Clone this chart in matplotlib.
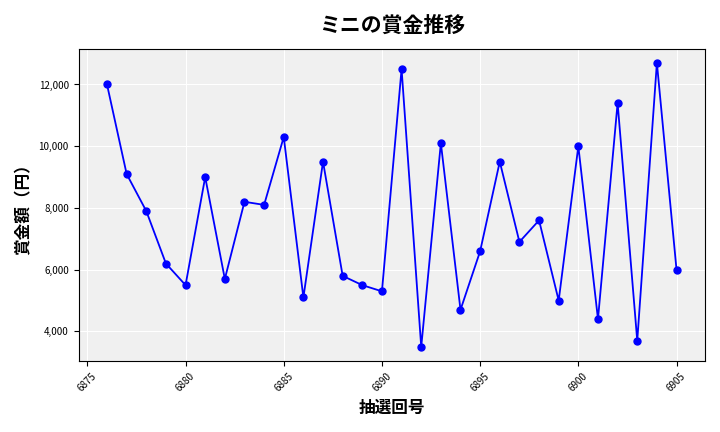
import matplotlib
matplotlib.use("Agg")
import matplotlib.pyplot as plt
from matplotlib.ticker import FuncFormatter

plt.rcParams['font.family'] = ['Noto Sans CJK JP', 'DejaVu Sans']

draws = list(range(6876, 6906))
prizes = [12000, 9100, 7900, 6200, 5500, 9000, 5700, 8200, 8100, 10300,
          5100, 9500, 5800, 5500, 5300, 12500, 3500, 10100, 4700, 6600,
          9500, 6900, 7600, 5000, 10000, 4400, 11400, 3700, 12700, 6000]

fig, ax = plt.subplots(figsize=(7.2, 4.32), dpi=100)
ax.set_facecolor('#f0f0f0')
ax.plot(draws, prizes, color='blue', marker='o', markersize=5, linewidth=1.3)
ax.grid(True, color='white', linewidth=0.8)
ax.set_axisbelow(True)
ax.set_title('ミニの賞金推移', fontsize=15, fontweight='bold', pad=12)
ax.set_xlabel('抽選回号', fontsize=12, fontweight='bold')
ax.set_ylabel('賞金額（円）', fontsize=12, fontweight='bold')
ax.yaxis.set_major_formatter(FuncFormatter(lambda v, p: f'{int(v):,}'))
ax.set_yticks([4000, 6000, 8000, 10000, 12000])
ax.set_xticks(range(6875, 6906, 5))
ax.tick_params(axis='x', labelrotation=45, labelsize=7)
ax.tick_params(axis='y', labelsize=7)
fig.tight_layout()
fig.savefig('out.png')
